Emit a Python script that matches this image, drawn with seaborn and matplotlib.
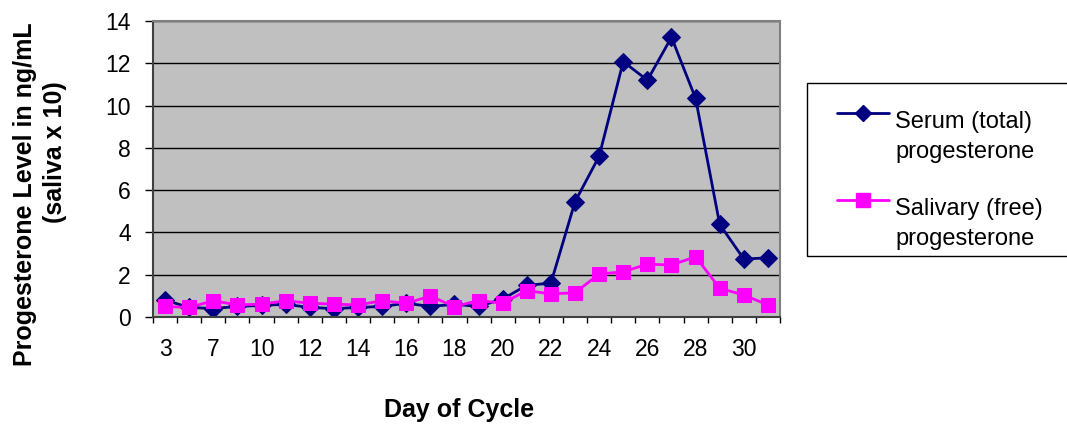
import numpy as np
import pandas as pd
import matplotlib
matplotlib.use("Agg")
import matplotlib.pyplot as plt
from matplotlib.lines import Line2D
from matplotlib.patches import Rectangle
import seaborn as sns

# ── data ──
days = [3, 5, 7, 9, 10, 11, 12, 13, 14, 15, 16, 17, 18, 19, 20,
        21, 22, 23, 24, 25, 26, 27, 28, 29, 30, 31]
serum = [0.8, 0.45, 0.4, 0.5, 0.55, 0.6, 0.45, 0.4, 0.45, 0.5, 0.65, 0.5,
         0.6, 0.5, 0.85, 1.5, 1.6, 5.45, 7.6, 12.08, 11.2, 13.23, 10.34,
         4.38, 2.74, 2.8]
saliva = [0.5, 0.45, 0.77, 0.57, 0.61, 0.77, 0.65, 0.61, 0.57, 0.77, 0.65,
          0.99, 0.49, 0.78, 0.65, 1.25, 1.09, 1.15, 2.03, 2.14, 2.5, 2.46,
          2.85, 1.36, 1.04, 0.57]
labelled_days = [3, 7, 10, 12, 14, 16, 18, 20, 22, 24, 26, 28, 30]
series_names = ["Serum (total)\nprogesterone", "Salivary (free)\nprogesterone"]

df = pd.DataFrame({"pos": np.arange(len(days)), "day": days,
                   "serum": serum, "saliva": saliva})

sns.set_theme(style="white", rc={"text.color": "black", "xtick.color": "black",
                                 "ytick.color": "black",
                                 "axes.labelcolor": "black"})
plt.rcParams["font.family"] = ["Liberation Sans", "DejaVu Sans"]

W, H = 1067, 424


def fx(px):
    return px / W


def fy(py):
    return 1 - py / H


fig = plt.figure(figsize=(W / 100, H / 100), dpi=100)
ax = fig.add_axes([fx(153), fy(317), (780 - 153) / W, (317 - 21) / H])
ax.set_facecolor("#C0C0C0")

navy = "#000080"
magenta = "#FF00FF"
styles = [dict(color=navy, marker="D", markersize=9),
          dict(color=magenta, marker="s", markersize=10)]

for col, st in zip(["serum", "saliva"], styles):
    sns.lineplot(data=df, x="pos", y=col, ax=ax, color=st["color"],
                 linewidth=2.0, marker=st["marker"], markersize=st["markersize"],
                 markeredgecolor=st["color"], legend=False)

ax.set_xlim(-0.5, len(days) - 0.5)
ax.set_ylim(0, 14)
ax.set_yticks(range(0, 15, 2))
ax.yaxis.grid(True, color="black", linewidth=1.0)
ax.set_axisbelow(True)

# tick marks between categories, labels on every other category
ax.set_xticks(np.arange(-0.5, len(days), 1.0))
ax.set_xticklabels([])
lab_pos = [days.index(d) for d in labelled_days]
ax.set_xticks(lab_pos, minor=True)
ax.set_xticklabels([str(d) for d in labelled_days], minor=True)
ax.tick_params(axis="x", which="major", length=4.5, width=1, color="black",
               direction="out", bottom=True)
ax.tick_params(axis="x", which="minor", length=0, pad=15, labelsize=16.5,
               labelcolor="black")
ax.tick_params(axis="y", length=6, width=1, color="black", direction="out",
               left=True, labelsize=16.5, pad=10, labelcolor="black")

for s in ax.spines.values():
    s.set_color("#808080")
    s.set_linewidth(1.5)
ax.spines["left"].set_color("#404040")
ax.spines["bottom"].set_color("#404040")
ax.set_xlabel("")
ax.set_ylabel("")

# axis titles
fig.text(fx(459), fy(417), "Day of Cycle", fontsize=18, fontweight="bold",
         ha="center", va="baseline", color="black")
fig.text(fx(25), fy(194), "Progesterone Level in ng/mL", fontsize=18,
         fontweight="bold", rotation=90, ha="center", va="center", color="black")
fig.text(fx(55), fy(152), "(saliva x 10)", fontsize=18,
         fontweight="bold", rotation=90, ha="center", va="center", color="black")

# legend box drawn by hand so the key sits on the first text line
fig.add_artist(Rectangle((fx(807), fy(256)), fx(1090) - fx(807), fy(83) - fy(256),
                         transform=fig.transFigure, facecolor="white",
                         edgecolor="black", linewidth=1.0))
for name, st, ly in zip(series_names, styles, [113, 200]):
    fig.add_artist(Line2D([fx(837), fx(889)], [fy(ly), fy(ly)],
                          transform=fig.transFigure, color=st["color"],
                          linewidth=2.0))
    fig.add_artist(Line2D([fx(863)], [fy(ly)], transform=fig.transFigure,
                          color=st["color"], marker=st["marker"],
                          markersize=st["markersize"] - 0.5, linestyle="none"))
    line1, line2 = name.split("\n")
    fig.text(fx(895), fy(ly + 15), line1, fontsize=17, va="baseline", ha="left",
             color="black")
    fig.text(fx(895), fy(ly + 45), line2, fontsize=17, va="baseline", ha="left",
             color="black")

fig.savefig("out.png", dpi=100)
